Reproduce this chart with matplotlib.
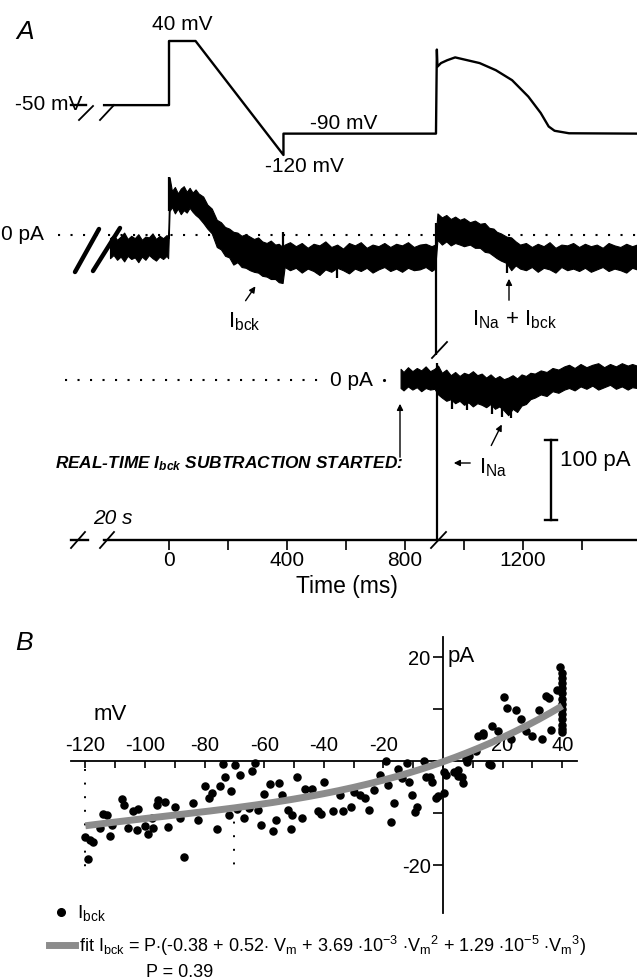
import matplotlib
matplotlib.use("Agg")
import matplotlib.pyplot as plt
import numpy as np
from matplotlib.lines import Line2D
from matplotlib.patches import FancyArrowPatch
from matplotlib.ticker import FixedLocator

plt.rcParams['font.family'] = ['Liberation Sans', 'DejaVu Sans']
plt.rcParams['mathtext.fontset'] = 'custom'
plt.rcParams['mathtext.rm'] = 'Liberation Sans'
plt.rcParams['mathtext.it'] = 'Liberation Sans:italic'
plt.rcParams['mathtext.bf'] = 'Liberation Sans:bold'
plt.rcParams['mathtext.bfit'] = 'Liberation Sans:bold:italic'

# ---- panel A data (time in ms) ----
# voltage protocol, mV
hold_t = [-332, -281]
hold_v = [-50, -50]
prot_t = [-220, 0, 0, 90, 388, 388, 905, 908, 910, 922, 943, 970, 1053, 1108, 1163, 1218, 1260, 1287, 1307, 1356, 1586]
prot_v = [-50, -50, 40, 40, -120, -90, -90, 28, 4, 9, 13, 17, 9, -1, -15, -38, -61, -80, -86, -89.5, -90]

# current before subtraction, pA (noise envelope)
i1_t = [-200, -188, -176, -164, -152, -140, -128, -116, -104, -92, -80, -68, -56, -44, -32, -20, -8, -3,
        2, 10, 20, 30, 40, 50, 60, 70, 80, 90, 100,
        116, 130, 145, 162, 176, 190, 204, 218, 232, 246, 260, 274, 288, 302, 316, 331, 345, 360, 372, 385,
        392, 410, 430, 450, 470, 490, 510, 530, 550, 570, 590, 610, 630, 650, 670, 690, 710, 730, 750, 770,
        790, 810, 830, 850, 870, 890, 902,
        910, 925, 940, 955, 970, 986, 1000, 1020, 1037, 1054, 1070, 1085, 1100, 1111, 1125, 1144, 1160, 1175, 1190,
        1210, 1230, 1250, 1270, 1290, 1310, 1330, 1350, 1370, 1390, 1410, 1430, 1450, 1470, 1490, 1510, 1530,
        1550, 1570, 1586]
i1_hi = [-4, 0, -6, -2, 3, -5, -1, -4, 1, -6, -2, -3, 2, -5, -1, -4, 0, -4,
         72, 55, 60, 52, 58, 61, 54, 59, 53, 57, 52,
         48, 38, 33, 19, 16, 10, 8, 4, 3, -1, 1, -2, -5, -3, -8, -10, -7, -12, -11, -15,
         -12, -9, -14, -10, -16, -11, -13, -8, -15, -12, -17, -10, -13, -9, -16, -12, -14, -10, -15, -11,
         -13, -9, -15, -12, -11, -14, -12,
         27, 22, 25, 20, 23, 19, 21, 16, 18, 14, 15, 9, 8, 4, 2, -2, -3, -8, -12,
         -10, -15, -11, -14, -9, -16, -12, -13, -10, -15, -11, -14, -12, -16, -10, -13, -15,
         -11, -14, -12]
i1_lo = [-29, -25, -31, -27, -33, -26, -30, -28, -34, -27, -31, -25, -29, -32, -27, -30, -26, -29,
         30, 35, 27, 33, 26, 31, 28, 34, 29, 25, 22,
         15, 8, 2, -15, -18, -26, -28, -37, -34, -40, -41, -44, -46, -47, -51, -52, -55, -55, -59, -60,
         -40, -44, -41, -47, -42, -45, -50, -43, -46, -41, -44, -48, -42, -45, -41, -47, -43, -40, -45, -42,
         -46, -41, -44, -43, -40, -45, -42,
         -6, -12, -8, -13, -10, -12, -14, -12, -16, -16, -21, -22, -26, -29, -32, -35, -44, -38, -42,
         -44, -40, -46, -41, -43, -47, -40, -44, -42, -45, -41, -46, -43, -40, -45, -42, -44,
         -47, -41, -43]
i1_spk_t = [0, 388, 905, 570, 1147]
i1_spk_lo = [30, -40, -150, -54, -48]
i1_spk_hi = [73, 4, 15, -40, -30]

# current with real-time subtraction, pA
i2_t = [785, 795, 810, 825, 840, 855, 870, 885, 900, 912, 925, 940, 955, 970, 985, 1000, 1015, 1030, 1045, 1060,
        1075, 1090, 1105, 1120, 1135, 1150, 1165, 1180, 1195, 1210, 1225, 1240, 1260, 1280, 1300, 1320, 1340,
        1356, 1375, 1395, 1415, 1435, 1455, 1475, 1495, 1515, 1535, 1555, 1570, 1586]
i2_hi = [14, 10, 16, 11, 15, 12, 17, 11, 14, 18, 9, 13, 6, 10, 5, 9, 7, 11, 6, 8,
         3, 7, 2, 5, 1, 3, 6, 2, 7, 5, 9, 8, 12, 10, 15, 13, 17,
         19, 15, 20, 16, 19, 21, 16, 20, 17, 21, 18, 20, 18]
i2_lo = [-10, -13, -8, -12, -9, -14, -10, -12, -11, -18, -22, -26, -24, -29, -26, -31, -28, -33, -29, -31,
         -34, -30, -36, -33, -38, -44, -36, -40, -32, -30, -24, -22, -18, -20, -14, -16, -12,
         -10, -13, -8, -11, -7, -12, -9, -6, -11, -8, -12, -9, -10]
i2_spk_t = [907, 960, 1010, 1095, 1128, 1160]
i2_spk_lo = [-200, -36, -38, -42, -46, -48]
i2_spk_hi = [21, -20, -22, -26, -30, -30]

time_major = [0, 400, 800, 1200]
time_minor = [200, 600, 1000, 1400]

# ---- panel B data ----
b_v = [-107.7, -107.2, -114.0, -112.8, -120.0, -118.4, -117.3, -119.0, -115.0, -111.7,
       -111.2, -105.6, -103.9, -102.2, -102.8, -100.0, -98.9, -97.2, -97.8, -95.6,
       -93.3, -96.1, -92.2, -90.0, -88.3, -87.0, -83.8, -82.1,
       -80.0, -78.6, -77.4, -75.0, -75.8, -73.9, -73.0, -71.9, -71.0, -69.9,
       -68.0, -69.1, -66.9, -64.1, -63.0, -65.2, -62.1, -61.0, -59.9, -58.0,
       -55.2, -56.9, -56.1, -53.9, -52.1, -50.8, -51.0, -49.1, -47.2, -46.3,
       -44.1, -41.9, -40.8,
       -40.0, -36.9, -34.7, -33.6, -30.8, -29.7, -28.0, -26.3, -24.7, -23.0,
       -21.3, -19.1, -18.6, -16.3, -17.4, -15.2, -13.8, -12.2, -11.3, -10.4,
       -9.3, -8.6, -6.3, -5.6, -3.6, -2.4, -1.6, 0.3,
       1.0, 3.8, 4.9, 6.6, 7.7, 8.8, 11.1, 11.6, 13.3, 15.5, 16.6, 18.3, 20.5, 21.4,
       24.4, 22.7, 26.3, 27.7, 29.9, 32.2, 33.3, 34.4, 35.5, 36.3, 38.1, 39.2,
       0.5, 5.0, 6.5, 8.0, 13.3, 16.0, -4.3,
       40, 40, 40, 40, 40, 40, 40, 40, 40, 40, 40, 40, 40]
b_i = [-7.4, -8.5, -10.1, -10.4, -14.6, -15.2, -15.5, -18.9, -12.9, -14.4,
       -12.3, -12.8, -9.7, -9.2, -13.3, -12.5, -14.1, -12.8, -11.0, -7.5,
       -7.8, -8.5, -12.6, -8.8, -11.0, -18.5, -8.0, -11.3,
       -4.9, -7.2, -6.2, -4.8, -13.1, -0.6, -3.0, -10.4, -5.8, -0.8,
       -2.7, -9.3, -11.0, -2.0, -0.3, -9.0, -9.4, -12.3, -6.4, -4.5,
       -4.3, -13.4, -11.3, -6.5, -9.4, -10.4, -13.1, -3.0, -11.0, -5.3,
       -5.3, -9.7, -10.1,
       -4.0, -9.7, -6.5, -9.7, -8.8, -5.9, -6.5, -7.2, -9.4, -5.6,
       -2.7, 0.0, -4.6, -8.1, -11.7, -1.6, -3.2, -0.3, -4.0, -6.5,
       -9.9, -8.9, 0.0, -3.1, -4.0, -7.2, -6.7, -2.2,
       -2.6, -2.2, -2.9, -4.2, 0.3, 1.0, 1.9, 4.8, 5.4, -0.6, 6.7, 5.8, 12.4, 10.1,
       9.8, 4.2, 8.0, 5.8, 4.8, 9.8, 4.2, 12.5, 12.1, 6.0, 13.7, 18.1,
       -6.2, -1.8, -3.1, -0.2, 5.0, -0.8, -3.0,
       17.0, 16.0, 15.0, 14.0, 13.0, 12.0, 11.0, 10.0, 9.0, 8.0, 7.0, 6.2, 5.6]

fit_p = 0.39
fit_c = [-0.38, 0.52, 3.69e-3, 1.29e-5]
fit_v = np.linspace(-120, 40, 161)
fit_i = fit_p * (fit_c[0] + fit_c[1] * fit_v + fit_c[2] * fit_v**2 + fit_c[3] * fit_v**3)

# ---- figure ----
W, H = 637, 980
fig = plt.figure(figsize=(W / 100, H / 100), dpi=100)

PX0, PXMS = 169, 0.295


def t_of(px):
    return (px - PX0) / PXMS


T_LIM = (t_of(0), t_of(W))


def overlay(p0, v0, p1, v1):
    ax = fig.add_axes([0, 0, 1, 1])
    ax.set_axis_off()
    f0, f1 = 1 - p0 / H, 1 - p1 / H
    k = (v1 - v0) / (f1 - f0)
    ax.set_ylim(v0 - f0 * k, v0 + (1 - f0) * k)
    ax.set_xlim(*T_LIM)
    return ax


def ftext(x, y, s, **kw):
    kw.setdefault('fontsize', 15)
    kw.setdefault('va', 'center')
    fig.text(x / W, 1 - y / H, s, **kw)


def fline(xs, ys, **kw):
    kw.setdefault('color', 'k')
    fig.add_artist(Line2D([x / W for x in xs], [1 - y / H for y in ys], transform=fig.transFigure, **kw))


def farrow(x0, y0, x1, y1):
    fig.add_artist(FancyArrowPatch((x0 / W, 1 - y0 / H), (x1 / W, 1 - y1 / H), transform=fig.transFigure,
                                   arrowstyle='-|>', mutation_scale=9, lw=1, color='k'))


axV = overlay(41, 40, 155, -120)
axI1 = overlay(235, 0, 315, -100)
axI2 = overlay(380, 0, 460, -100)

# voltage protocol
axV.plot(hold_t, hold_v, color='k', lw=1.7, clip_on=False)
axV.plot(prot_t, prot_v, color='k', lw=1.7, clip_on=False)
fline([79, 93], [120, 106], lw=1.3)
fline([100, 114], [120, 105], lw=1.3)
ftext(182, 24, '40 mV', ha='center')
ftext(15, 104, '-50 mV', ha='left')
ftext(310, 123, '-90 mV', ha='left')
ftext(265, 167, '-120 mV', ha='left')
ftext(16, 32, 'A', ha='left', fontsize=19, style='italic')

# trace 1
axI1.fill_between(i1_t, i1_lo, i1_hi, color='k', lw=0.8, clip_on=False)
axI1.vlines(i1_spk_t, i1_spk_lo, i1_spk_hi, color='k', lw=1.6, clip_on=False)
axI1.plot([t_of(58), T_LIM[1]], [0, 0], color='k', lw=1.5, ls=(0, (1, 5)), clip_on=False)
fline([75, 99], [272, 229], lw=3.2, solid_capstyle='round')
fline([93, 120], [271, 228], lw=3.2, solid_capstyle='round')
fline([432, 447], [358, 342], lw=1.3)
ftext(1, 235, '0 pA', ha='left')
ftext(228, 322, r'$\mathrm{I_{bck}}$', ha='left', fontsize=16)
farrow(244, 303, 257, 284)
ftext(472, 320, r'$\mathrm{I_{Na}}$ + $\mathrm{I_{bck}}$', ha='left', fontsize=16)
farrow(509, 303, 509, 276)

# trace 2
axI2.fill_between(i2_t, i2_lo, i2_hi, color='k', lw=0.8, clip_on=False)
axI2.vlines(i2_spk_t, i2_spk_lo, i2_spk_hi, color='k', lw=1.6, clip_on=False)
axI2.plot([t_of(65), t_of(322)], [0, 0], color='k', lw=1.5, ls=(0, (1, 5)), clip_on=False)
axI2.plot([t_of(384)], [0], 'k.', ms=2.5)
ftext(330, 380, '0 pA', ha='left')
ftext(55, 464, r'REAL-TIME $\mathbfit{I}_{\mathbfit{bck}}$ SUBTRACTION STARTED:', ha='left',
      fontsize=12.4, fontweight='bold', style='italic')
farrow(400, 460, 400, 401)
farrow(473, 463, 451, 463)
ftext(479, 468, r'$\mathrm{I_{Na}}$', ha='left', fontsize=16)
farrow(490, 448, 503, 422)
fline([551, 551], [440, 520], lw=1.7)
fline([545, 557], [440, 440], lw=1.7)
fline([545, 557], [520, 520], lw=1.7)
ftext(560, 460, '100 pA', ha='left', fontsize=16)

# time axis
ax_t = fig.add_axes([0, 1 - 540 / H, 1, 0.02])
ax_t.patch.set_alpha(0)
for s in ['top', 'left', 'right']:
    ax_t.spines[s].set_visible(False)
ax_t.spines['bottom'].set_linewidth(1.7)
ax_t.spines['bottom'].set_bounds(t_of(104), T_LIM[1])
ax_t.set_xlim(*T_LIM)
ax_t.set_yticks([])
ax_t.set_xticks(time_major)
ax_t.xaxis.set_minor_locator(FixedLocator(time_minor))
ax_t.tick_params(which='both', direction='out', length=7, width=1.2, labelsize=15, pad=1)
fline([71, 88], [540, 540], lw=1.7)
fline([71, 85], [548, 532], lw=1.3)
fline([100, 114], [548, 532], lw=1.3)
fline([431, 446], [548, 532], lw=1.3)
ftext(93, 519, '20 s', ha='left', style='italic')
ftext(347, 587, 'Time (ms)', ha='center', fontsize=16.5)

# ---- panel B ----
VX0, VK = 443, 2.98
IY0, IK = 761, 5.2
axB = fig.add_axes([71 / W, 1 - 913 / H, (577 - 71) / W, (913 - 637) / H])
axB.patch.set_alpha(0)
axB.set_xlim((71 - VX0) / VK, (577 - VX0) / VK)
axB.set_ylim((IY0 - 913) / IK, (IY0 - 637) / IK)
axB.spines['left'].set_position(('data', 0))
axB.spines['bottom'].set_position(('data', 0))
axB.spines['top'].set_visible(False)
axB.spines['right'].set_visible(False)
axB.spines['left'].set_linewidth(1.3)
axB.spines['bottom'].set_linewidth(1.3)
axB.set_xticks([-120, -100, -80, -60, -40, -20, 0, 20, 40])
axB.set_xticklabels(['-120', '-100', '-80', '-60', '-40', '-20', '', '20', '40'])
axB.xaxis.set_minor_locator(FixedLocator([-110, -90, -70, -50, -30, -10, 10, 30]))
axB.tick_params(axis='x', which='both', direction='out', length=5, width=1.2, labelsize=14.5, pad=-23)
axB.set_yticks([-20, -10, 0, 10, 20])
axB.set_yticklabels(['-20', '', '', '', '20'])
axB.tick_params(axis='y', direction='out', length=7, width=1.2, labelsize=14.5, pad=2)
axB.plot([-120, -120], [-1.5, -20.5], color='k', lw=1.4, ls=(0, (1, 6)))
axB.plot([-70, -70], [-9, -20.5], color='k', lw=1.4, ls=(0, (1, 6)))
axB.scatter(b_v, b_i, s=26, color='k', zorder=3, clip_on=False)
axB.plot(fit_v, fit_i, color='#8c8c8c', lw=5, solid_capstyle='butt', zorder=4)
ftext(448, 656, 'pA', ha='left', fontsize=16)
ftext(94, 714, 'mV', ha='left', fontsize=16)
ftext(15, 643, 'B', ha='left', fontsize=19, style='italic')

# legend
fig.add_artist(Line2D([61 / W], [1 - 912 / H], marker='o', ms=5.5, color='k', transform=fig.transFigure))
ftext(77, 913, r'$\mathrm{I_{bck}}$', ha='left', fontsize=14)
fline([49, 75], [945, 945], lw=5, color='#8c8c8c')
ftext(79, 946, r'fit $\mathrm{I_{bck}}$ = P$\cdot$(-0.38 + 0.52$\cdot$ $\mathrm{V_m}$ + 3.69 $\cdot$10$^{-3}$ $\cdot$$\mathrm{V_m}^2$'
      r' + 1.29 $\cdot$10$^{-5}$ $\cdot$$\mathrm{V_m}^3$)', ha='left', fontsize=13)
ftext(146, 972, 'P = 0.39', ha='left', fontsize=13)

fig.savefig('out.png', dpi=100)
